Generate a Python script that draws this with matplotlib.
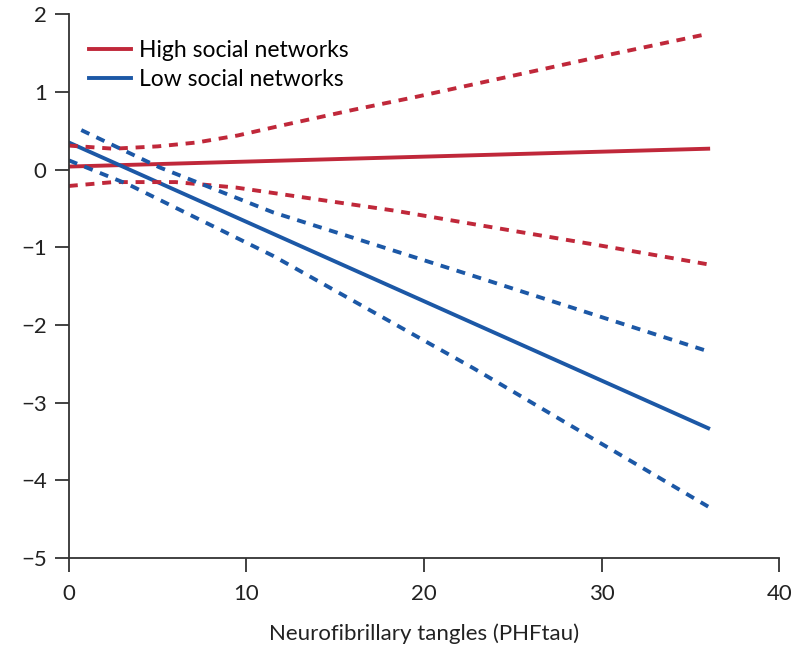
import matplotlib.pyplot as plt

plt.rcParams['font.family'] = ['Lato', 'DejaVu Sans']

red = '#c0283a'
blue = '#1c58a6'

# estimates
x_high = [0, 36]
y_high = [0.04, 0.27]
x_high_up = [0, 2.5, 5, 7.2, 9.5, 12, 16, 19.6, 25.2, 30, 36]
y_high_up = [0.31, 0.27, 0.30, 0.35, 0.44, 0.57, 0.77, 0.94, 1.22, 1.46, 1.75]
x_high_lo = [0, 2.5, 6, 9.4, 13.9, 18.4, 23, 30, 36]
y_high_lo = [-0.21, -0.16, -0.16, -0.23, -0.38, -0.53, -0.71, -0.98, -1.22]

x_low = [0, 36]
y_low = [0.35, -3.33]
x_low_up = [0.7, 5.1, 11.5, 22.8, 36]
y_low_up = [0.51, 0.03, -0.55, -1.37, -2.34]
x_low_lo = [0, 3.35, 11.5, 22.8, 36]
y_low_lo = [0.12, -0.19, -1.11, -2.56, -4.34]

fig = plt.figure(figsize=(8.1, 6.54), dpi=100)
ax = fig.add_axes([0.085, 0.147, 0.877, 0.831])

lw = 2.8
dash = (2.3, 2.0)
ax.plot(x_high, y_high, color=red, lw=lw, label='High social networks')
ax.plot(x_low, y_low, color=blue, lw=lw, label='Low social networks')
ax.plot(x_high_up, y_high_up, color=red, lw=lw, dashes=dash)
ax.plot(x_high_lo, y_high_lo, color=red, lw=lw, dashes=dash)
ax.plot(x_low_up, y_low_up, color=blue, lw=lw, dashes=dash)
ax.plot(x_low_lo, y_low_lo, color=blue, lw=lw, dashes=dash)

ax.set_xlim(0, 40)
ax.set_ylim(-5, 2)
ax.set_xticks([0, 10, 20, 30, 40])
ax.set_yticks([-5, -4, -3, -2, -1, 0, 1, 2])
ax.spines['top'].set_visible(False)
ax.spines['right'].set_visible(False)
for s in ['left', 'bottom']:
    ax.spines[s].set_color('#333333')
    ax.spines[s].set_linewidth(1.3)
ax.tick_params(direction='out', length=10, width=1.3, color='#333333',
               labelsize=16, labelcolor='#222222', pad=6)
ax.tick_params(axis='x', pad=9)
ax.set_xlabel('Neurofibrillary tangles (PHFtau)', fontsize=16, color='#222222', labelpad=14)

ax.legend(loc='upper left', bbox_to_anchor=(0.0, 0.99), frameon=False,
          fontsize=16.5, handlelength=1.8, handletextpad=0.35, labelspacing=0.35)

fig.savefig('out.png', dpi=100)
